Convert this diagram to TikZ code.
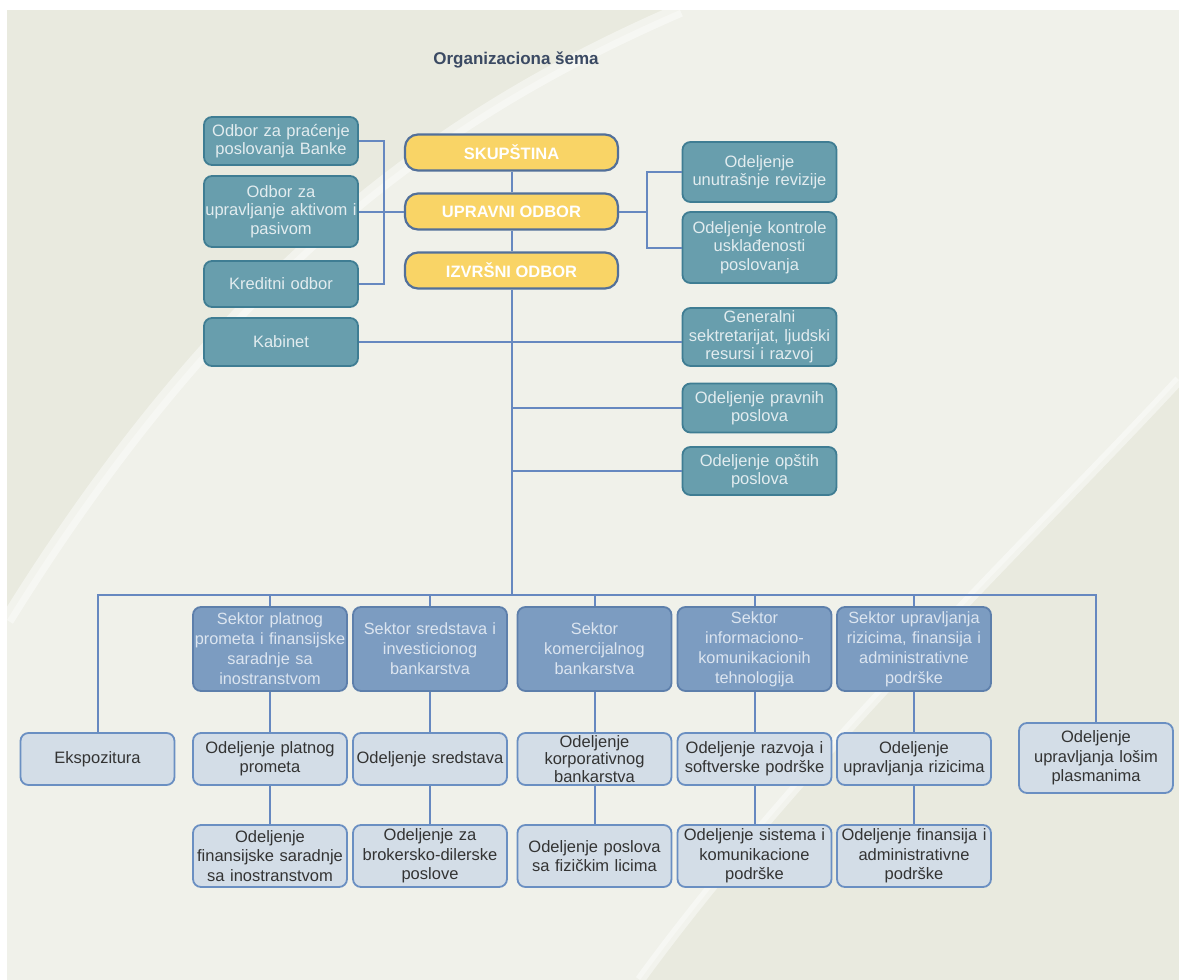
\documentclass[tikz,border=0pt]{standalone}
\usepackage{fontspec}
\setmainfont{Liberation Sans}
\usepackage{tikz}
\usetikzlibrary{arrows}
\definecolor{bgbeige}{HTML}{E9EADF}
\definecolor{tealfill}{HTML}{689EAD}
\definecolor{tealline}{HTML}{3F7D93}
\definecolor{tealtext}{HTML}{E2ECEF}
\definecolor{goldfill}{HTML}{F9D466}
\definecolor{goldline}{HTML}{52709A}
\definecolor{sekfill}{HTML}{7C9CC1}
\definecolor{sekline}{HTML}{5D7FAB}
\definecolor{sektext}{HTML}{DCE5F0}
\definecolor{odfill}{HTML}{D3DDE7}
\definecolor{odline}{HTML}{6A8FC2}
\definecolor{lineblue}{HTML}{6688C0}
\definecolor{titleblue}{HTML}{3B4A63}
\hyphenpenalty=10000
\exhyphenpenalty=10000

\begin{document}
\begin{tikzpicture}[x=1pt,y=-1pt]
  \tikzstyle{veza}=[draw=lineblue,line width=2pt]
  \tikzstyle{odbor}=[draw=tealline,fill=tealfill,text=tealtext,line width=1.8pt,
                     rounded corners=8pt,minimum width=154pt,text width=154pt,
                     inner xsep=0pt,inner ysep=1pt,align=center,
                     font=\fontsize{16.5}{18.5}\selectfont]
  \tikzstyle{organ}=[draw=goldline,fill=goldfill,text=white,line width=2.2pt,
                     rounded corners=13pt,minimum width=213pt,minimum height=36pt,
                     inner sep=1pt,font=\fontsize{16.5}{19}\selectfont\bfseries]
  \tikzstyle{sektor}=[draw=sekline,fill=sekfill,text=sektext,line width=1.8pt,
                      rounded corners=8pt,minimum width=154pt,text width=154pt,
                      minimum height=84pt,inner xsep=0pt,inner ysep=1pt,align=center,
                      font=\fontsize{16.3}{20}\selectfont]
  \tikzstyle{odeljenje}=[draw=odline,fill=odfill,text=black!80,line width=1.8pt,
                         rounded corners=8pt,minimum width=154pt,text width=154pt,
                         inner xsep=0pt,inner ysep=1pt,align=center,
                         font=\fontsize{16.5}{19.3}\selectfont]

  \useasboundingbox (0,0) rectangle (1179,980);
  \fill[white] (0,0) rectangle (1179,980);
  \fill[bgbeige] (7,10) rectangle (1179,980);
  \fill[white,opacity=0.35] (680,10) .. controls (450,110) and (230,260) .. (7,620)
    -- (7,980) -- (640,980) .. controls (800,760) and (1050,520) .. (1179,380)
    -- (1179,10) -- cycle;
  \draw[white,line width=14pt,opacity=0.45] (680,10) .. controls (450,110) and (230,260) .. (7,620);
  \draw[white,line width=10pt,opacity=0.45] (1179,380) .. controls (1050,520) and (800,760) .. (640,980);

  \node[font=\fontsize{17}{20}\selectfont\bfseries,text=titleblue] (naslov) at (516,60) {Organizaciona šema};

  \node[odbor,minimum height=48pt] (pracenje) at (281,141) {Odbor za praćenje\\poslovanja Banke};
  \node[odbor,minimum height=71pt] (aktiva) at (281,211.5) {Odbor za\\upravljanje aktivom i\\pasivom};
  \node[odbor,minimum height=46pt] (kredit) at (281,284) {Kreditni odbor};
  \node[odbor,minimum height=48pt] (kabinet) at (281,342) {Kabinet};
  \node[organ] (skup) at (511.5,152.5) {SKUPŠTINA};
  \node[organ] (upravni) at (511.5,211.5) {UPRAVNI ODBOR};
  \node[organ] (izvrsni) at (511.5,270.5) {IZVRŠNI ODBOR};
  \node[odbor,minimum height=60pt] (revizija) at (759.5,172) {Odeljenje\\unutrašnje revizije};
  \node[odbor,minimum height=71pt] (kontrola) at (759.5,247.5) {Odeljenje kontrole\\usklađenosti\\poslovanja};
  \node[odbor,minimum height=58pt] (generalni) at (759.5,337) {Generalni\\sektretarijat, ljudski\\resursi i razvoj};
  \node[odbor,minimum height=49pt] (pravni) at (759.5,408) {Odeljenje pravnih\\poslova};
  \node[odbor,minimum height=48pt] (opsti) at (759.5,471) {Odeljenje opštih\\poslova};

  \node[sektor] (platni) at (270,649) {Sektor platnog\\prometa i finansijske\\saradnje sa\\inostranstvom};
  \node[sektor] (sredstva) at (430,649) {Sektor sredstava i\\investicionog\\bankarstva};
  \node[sektor] (komerc) at (594.5,649) {Sektor\\komercijalnog\\bankarstva};
  \node[sektor] (ikt) at (754.5,649) {Sektor\\informaciono-\\komunikacionih\\tehnologija};
  \node[sektor] (rizici) at (914,649) {Sektor upravljanja\\rizicima, finansija i\\administrativne\\podrške};

  \node[odeljenje,minimum height=52pt] (ekspo) at (97.5,759) {Ekspozitura};
  \node[odeljenje,minimum height=52pt] (ppromet) at (270,759) {Odeljenje platnog\\prometa};
  \node[odeljenje,minimum height=52pt] (osred) at (430,759) {Odeljenje sredstava};
  \node[odeljenje,minimum height=52pt,font=\fontsize{16.5}{17.5}\selectfont] (korpor) at (594.5,759) {Odeljenje\\korporativnog\\bankarstva};
  \node[odeljenje,minimum height=52pt] (razvoj) at (754.5,759) {Odeljenje razvoja i\\softverske podrške};
  \node[odeljenje,minimum height=52pt] (upriz) at (914,759) {Odeljenje\\upravljanja rizicima};
  \node[odeljenje,minimum height=70pt] (losi) at (1096,758) {Odeljenje\\upravljanja lošim\\plasmanima};

  \node[odeljenje,minimum height=62pt] (finsar) at (270,856) {Odeljenje\\finansijske saradnje\\sa inostranstvom};
  \node[odeljenje,minimum height=62pt] (broker) at (430,856) {Odeljenje za\\brokersko-dilerske\\poslove};
  \node[odeljenje,minimum height=62pt] (fizicka) at (594.5,856) {Odeljenje poslova\\sa fizičkim licima};
  \node[odeljenje,minimum height=62pt] (sistem) at (754.5,856) {Odeljenje sistema i\\komunikacione\\podrške};
  \node[odeljenje,minimum height=62pt] (finadm) at (914,856) {Odeljenje finansija i\\administrativne\\podrške};

  \coordinate (lb) at (384,211.5);
  \coordinate (rb) at (647,211.5);
  \coordinate (bus) at (511.5,595);

  \draw[veza] (pracenje.east) -| (lb) |- (kredit.east);
  \draw[veza] (aktiva) -- (upravni);
  \draw[veza] (upravni) -- (rb);
  \draw[veza] (revizija.west) -| (rb) |- (kontrola.west);
  \draw[veza] (skup) -- (upravni) -- (izvrsni);
  \draw[veza] (izvrsni) -- (bus);
  \draw[veza] (kabinet.east) -- (kabinet.east -| generalni.west);
  \draw[veza] (izvrsni.south |- pravni.west) -- (pravni.west);
  \draw[veza] (izvrsni.south |- opsti.west) -- (opsti.west);
  \draw[veza] (ekspo.north) |- (bus) -| (losi.north);
  \draw[veza] (platni.north) -- (platni.north |- bus);
  \draw[veza] (sredstva.north) -- (sredstva.north |- bus);
  \draw[veza] (komerc.north) -- (komerc.north |- bus);
  \draw[veza] (ikt.north) -- (ikt.north |- bus);
  \draw[veza] (rizici.north) -- (rizici.north |- bus);
  \draw[veza] (platni) -- (ppromet) -- (finsar);
  \draw[veza] (sredstva) -- (osred) -- (broker);
  \draw[veza] (komerc) -- (korpor) -- (fizicka);
  \draw[veza] (ikt) -- (razvoj) -- (sistem);
  \draw[veza] (rizici) -- (upriz) -- (finadm);
\end{tikzpicture}
\end{document}
